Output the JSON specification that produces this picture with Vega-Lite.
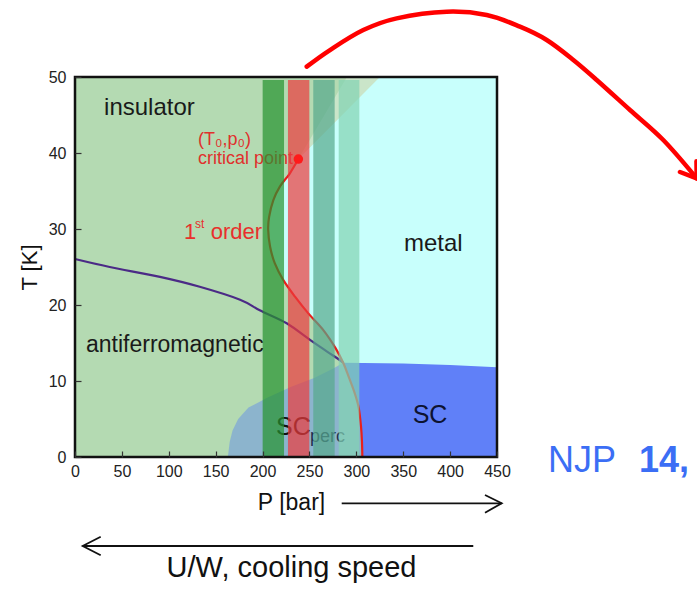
{
  "$schema": "https://vega.github.io/schema/vega-lite/v6.json",
  "autosize": {"type": "none"},
  "padding": {"left": 75, "top": 77, "right": 200, "bottom": 136},
  "width": 422,
  "height": 380,
  "background": "white",
  "config": {"view": {"stroke": null, "fill": "#c8fffc"}, "font": "Liberation Sans"},
  "resolve": {"scale": {"color": "independent"}},
  "datasets": {
    "regions": [
      {"poly": "green", "i": 0, "P": 0, "T": 0},
      {"poly": "green", "i": 1, "P": 306.4, "T": 0},
      {"poly": "green", "i": 2, "P": 306, "T": 2},
      {"poly": "green", "i": 3, "P": 305, "T": 4},
      {"poly": "green", "i": 4, "P": 302.5, "T": 6.5},
      {"poly": "green", "i": 5, "P": 298, "T": 8.5},
      {"poly": "green", "i": 6, "P": 292, "T": 10.5},
      {"poly": "green", "i": 7, "P": 286, "T": 12.4},
      {"poly": "green", "i": 8, "P": 278, "T": 14.3},
      {"poly": "green", "i": 9, "P": 264.8, "T": 16.7},
      {"poly": "green", "i": 10, "P": 248.8, "T": 18.9},
      {"poly": "green", "i": 11, "P": 234.6, "T": 21.1},
      {"poly": "green", "i": 12, "P": 222, "T": 23.3},
      {"poly": "green", "i": 13, "P": 213, "T": 25.5},
      {"poly": "green", "i": 14, "P": 208, "T": 27.7},
      {"poly": "green", "i": 15, "P": 206, "T": 29.9},
      {"poly": "green", "i": 16, "P": 207, "T": 31.6},
      {"poly": "green", "i": 17, "P": 211.5, "T": 33.8},
      {"poly": "green", "i": 18, "P": 218.6, "T": 35.6},
      {"poly": "green", "i": 19, "P": 229, "T": 37.3},
      {"poly": "green", "i": 20, "P": 238.2, "T": 39.2},
      {"poly": "green", "i": 21, "P": 325, "T": 50},
      {"poly": "green", "i": 22, "P": 0, "T": 50},
      {"poly": "wedge", "i": 0, "P": 238.2, "T": 39.2},
      {"poly": "wedge", "i": 1, "P": 325, "T": 50},
      {"poly": "wedge", "i": 2, "P": 290, "T": 50},
      {"poly": "perc", "i": 0, "P": 163, "T": 0},
      {"poly": "perc", "i": 1, "P": 165, "T": 2},
      {"poly": "perc", "i": 2, "P": 168, "T": 3.5},
      {"poly": "perc", "i": 3, "P": 174, "T": 5},
      {"poly": "perc", "i": 4, "P": 185, "T": 6.5},
      {"poly": "perc", "i": 5, "P": 205, "T": 7.8},
      {"poly": "perc", "i": 6, "P": 230, "T": 9.2},
      {"poly": "perc", "i": 7, "P": 255, "T": 10.4},
      {"poly": "perc", "i": 8, "P": 275, "T": 11.6},
      {"poly": "perc", "i": 9, "P": 286, "T": 12.4},
      {"poly": "perc", "i": 10, "P": 292, "T": 10.5},
      {"poly": "perc", "i": 11, "P": 298, "T": 8.5},
      {"poly": "perc", "i": 12, "P": 302.5, "T": 6.5},
      {"poly": "perc", "i": 13, "P": 305, "T": 4},
      {"poly": "perc", "i": 14, "P": 306, "T": 2},
      {"poly": "perc", "i": 15, "P": 306.4, "T": 0},
      {"poly": "sc", "i": 0, "P": 286, "T": 12.4},
      {"poly": "sc", "i": 1, "P": 350, "T": 12.3},
      {"poly": "sc", "i": 2, "P": 400, "T": 12.1},
      {"poly": "sc", "i": 3, "P": 450, "T": 11.8},
      {"poly": "sc", "i": 4, "P": 450, "T": 0},
      {"poly": "sc", "i": 5, "P": 306.4, "T": 0},
      {"poly": "sc", "i": 6, "P": 306, "T": 2},
      {"poly": "sc", "i": 7, "P": 305, "T": 4},
      {"poly": "sc", "i": 8, "P": 302.5, "T": 6.5},
      {"poly": "sc", "i": 9, "P": 298, "T": 8.5},
      {"poly": "sc", "i": 10, "P": 292, "T": 10.5}
    ],
    "lines": [
      {"series": "af", "i": 0, "P": 0, "T": 26.05},
      {"series": "af", "i": 1, "P": 37, "T": 25.0},
      {"series": "af", "i": 2, "P": 90.6, "T": 23.7},
      {"series": "af", "i": 3, "P": 133, "T": 22.4},
      {"series": "af", "i": 4, "P": 176, "T": 20.7},
      {"series": "af", "i": 5, "P": 197, "T": 19.3},
      {"series": "af", "i": 6, "P": 225.7, "T": 17.6},
      {"series": "af", "i": 7, "P": 250.6, "T": 15.4},
      {"series": "af", "i": 8, "P": 268.4, "T": 13.9},
      {"series": "af", "i": 9, "P": 281.9, "T": 12.8},
      {"series": "af", "i": 10, "P": 286, "T": 12.4},
      {"series": "first", "i": 1, "P": 306.4, "T": 0},
      {"series": "first", "i": 2, "P": 306, "T": 2},
      {"series": "first", "i": 3, "P": 305, "T": 4},
      {"series": "first", "i": 4, "P": 302.5, "T": 6.5},
      {"series": "first", "i": 5, "P": 298, "T": 8.5},
      {"series": "first", "i": 6, "P": 292, "T": 10.5},
      {"series": "first", "i": 7, "P": 286, "T": 12.4},
      {"series": "first", "i": 8, "P": 278, "T": 14.3},
      {"series": "first", "i": 9, "P": 264.8, "T": 16.7},
      {"series": "first", "i": 10, "P": 248.8, "T": 18.9},
      {"series": "first", "i": 11, "P": 234.6, "T": 21.1},
      {"series": "first", "i": 12, "P": 222, "T": 23.3},
      {"series": "first", "i": 13, "P": 213, "T": 25.5},
      {"series": "first", "i": 14, "P": 208, "T": 27.7},
      {"series": "first", "i": 15, "P": 206, "T": 29.9},
      {"series": "first", "i": 16, "P": 207, "T": 31.6},
      {"series": "first", "i": 17, "P": 211.5, "T": 33.8},
      {"series": "first", "i": 18, "P": 218.6, "T": 35.6},
      {"series": "first", "i": 19, "P": 229, "T": 37.3},
      {"series": "first", "i": 20, "P": 238.2, "T": 39.2}
    ],
    "bands": [
      {"band": "b1", "P": 200.1, "P2": 222.9, "T": 0, "T2": 49.6},
      {"band": "b2", "P": 227.1, "P2": 249.9, "T": 0, "T2": 49.6},
      {"band": "b3", "P": 254.1, "P2": 276.9, "T": 0, "T2": 49.6},
      {"band": "b4", "P": 281.2, "P2": 303.2, "T": 0, "T2": 49.6}
    ],
    "arrows": [
      {"series": "curve", "i": 0, "P": 247.1, "T": 51.36},
      {"series": "curve", "i": 1, "P": 271.9, "T": 53.55},
      {"series": "curve", "i": 2, "P": 307.4, "T": 56.18},
      {"series": "curve", "i": 3, "P": 343.0, "T": 57.72},
      {"series": "curve", "i": 4, "P": 396.4, "T": 58.59},
      {"series": "curve", "i": 5, "P": 439.0, "T": 58.16},
      {"series": "curve", "i": 6, "P": 474.5, "T": 56.62},
      {"series": "curve", "i": 7, "P": 503.0, "T": 54.87},
      {"series": "curve", "i": 8, "P": 531.4, "T": 52.24},
      {"series": "curve", "i": 9, "P": 556.3, "T": 49.61},
      {"series": "curve", "i": 10, "P": 591.8, "T": 45.66},
      {"series": "curve", "i": 11, "P": 627.3, "T": 41.71},
      {"series": "curve", "i": 12, "P": 662.9, "T": 36.67},
      {"series": "curveHead", "i": 0, "P": 645.1, "T": 37.5},
      {"series": "curveHead", "i": 1, "P": 662.9, "T": 36.67},
      {"series": "curveHead", "i": 2, "P": 662.7, "T": 38.9},
      {"series": "right", "i": 0, "P": 284.4, "T": -6.09},
      {"series": "right", "i": 1, "P": 455.0, "T": -6.09},
      {"series": "rightHead", "i": 0, "P": 437.2, "T": -5.0},
      {"series": "rightHead", "i": 1, "P": 455.0, "T": -6.09},
      {"series": "rightHead", "i": 2, "P": 437.2, "T": -7.33},
      {"series": "left", "i": 0, "P": 424.7, "T": -11.71},
      {"series": "left", "i": 1, "P": 8.2, "T": -11.71},
      {"series": "leftHead", "i": 0, "P": 27.4, "T": -10.49},
      {"series": "leftHead", "i": 1, "P": 8.2, "T": -11.71},
      {"series": "leftHead", "i": 2, "P": 27.4, "T": -12.93}
    ]
  },
  "encoding": {
    "x": {
      "field": "P", "type": "quantitative",
      "scale": {"domain": [0, 450], "nice": false, "zero": false},
      "axis": {
        "values": [0, 50, 100, 150, 200, 250, 300, 350, 400, 450],
        "title": null, "domain": false, "grid": false,
        "tickSize": -6, "tickColor": "#333", "tickWidth": 1.2,
        "labelFontSize": 16, "labelColor": "#222", "labelPadding": 12,
        "labelFont": "Liberation Sans", "labelFlush": false, "labelOverlap": false, "zindex": 1
      }
    },
    "y": {
      "field": "T", "type": "quantitative",
      "scale": {"domain": [0, 50], "nice": false, "zero": false},
      "axis": {
        "values": [0, 10, 20, 30, 40, 50],
        "title": "T [K]", "titleFontSize": 22, "titleFontWeight": "normal", "titleColor": "#111",
        "titleFont": "Liberation Sans",
        "titleX": -46, "titleY": 190, "titleAngle": 270, "titleAlign": "center", "titleBaseline": "middle",
        "domain": false, "grid": false,
        "tickSize": -6, "tickColor": "#333", "tickWidth": 1.2,
        "labelFontSize": 16, "labelColor": "#222", "labelPadding": 15,
        "labelFont": "Liberation Sans", "labelOverlap": false, "zindex": 1
      }
    }
  },
  "layer": [
    {
      "data": {"name": "regions"},
      "transform": [{"filter": "datum.poly === 'green'"}],
      "mark": {"type": "line", "fill": "#b4dab2", "stroke": "#b4dab2", "strokeWidth": 0, "strokeOpacity": 0},
      "encoding": {"order": {"field": "i", "type": "quantitative"}}
    },
    {
      "data": {"name": "regions"},
      "transform": [{"filter": "datum.poly === 'wedge'"}],
      "mark": {"type": "line", "fill": "#ffffff", "fillOpacity": 0.3, "stroke": "#ffffff", "strokeWidth": 0, "strokeOpacity": 0},
      "encoding": {"order": {"field": "i", "type": "quantitative"}}
    },
    {
      "data": {"name": "regions"},
      "transform": [{"filter": "datum.poly === 'perc'"}],
      "mark": {"type": "line", "fill": "#719bdf", "fillOpacity": 0.6, "stroke": "#719bdf", "strokeWidth": 0, "strokeOpacity": 0},
      "encoding": {"order": {"field": "i", "type": "quantitative"}}
    },
    {
      "data": {"name": "regions"},
      "transform": [{"filter": "datum.poly === 'sc'"}],
      "mark": {"type": "line", "fill": "#6080f8", "stroke": "#6080f8", "strokeWidth": 0, "strokeOpacity": 0},
      "encoding": {"order": {"field": "i", "type": "quantitative"}}
    },
    {
      "data": {"name": "lines"},
      "mark": {"type": "line", "strokeWidth": 2.2, "interpolate": "cardinal"},
      "encoding": {
        "order": {"field": "i", "type": "quantitative"},
        "color": {"field": "series", "type": "nominal", "scale": {"domain": ["af", "first"], "range": ["#4b2a86", "#e8201c"]}, "legend": null}
      }
    },
    {
      "data": {"values": [{"label": "insulator", "P": 31, "T": 45}]},
      "mark": {"type": "text", "align": "left", "baseline": "alphabetic", "fontSize": 24, "color": "#1a1a1a", "font": "Liberation Sans"},
      "encoding": {"text": {"field": "label"}}
    },
    {
      "data": {"values": [{"label": "metal", "P": 382, "T": 27.1}]},
      "mark": {"type": "text", "align": "center", "baseline": "alphabetic", "fontSize": 24, "color": "#1a1a1a", "font": "Liberation Sans"},
      "encoding": {"text": {"field": "label"}}
    },
    {
      "data": {"values": [{"label": "antiferromagnetic", "P": 11.7, "T": 13.8}]},
      "mark": {"type": "text", "align": "left", "baseline": "alphabetic", "fontSize": 23, "color": "#1a1a1a", "font": "Liberation Sans"},
      "encoding": {"text": {"field": "label"}}
    },
    {
      "data": {"values": [{"label": "(T₀,p₀)", "P": 131.2, "T": 41.05}, {"label": "critical point", "P": 131.2, "T": 38.55}]},
      "mark": {"type": "text", "align": "left", "baseline": "alphabetic", "fontSize": 18, "color": "#e0302c", "font": "Liberation Sans"},
      "encoding": {"text": {"field": "label"}}
    },
    {
      "data": {"values": [{"label": "1", "P": 116.2, "T": 28.7}, {"label": "order", "P": 144.7, "T": 28.7}]},
      "mark": {"type": "text", "align": "left", "baseline": "alphabetic", "fontSize": 22, "color": "#e8302c", "font": "Liberation Sans"},
      "encoding": {"text": {"field": "label"}}
    },
    {
      "data": {"values": [{"label": "st", "P": 128, "T": 30.1}]},
      "mark": {"type": "text", "align": "left", "baseline": "alphabetic", "fontSize": 12, "color": "#e8302c", "font": "Liberation Sans"},
      "encoding": {"text": {"field": "label"}}
    },
    {
      "data": {"values": [{"label": "SC", "P": 378.6, "T": 4.5}]},
      "mark": {"type": "text", "align": "center", "baseline": "alphabetic", "fontSize": 25, "color": "#0d1330", "font": "Liberation Sans"},
      "encoding": {"text": {"field": "label"}}
    },
    {
      "data": {"values": [{"label": "SC", "P": 214.3, "T": 2.9}]},
      "mark": {"type": "text", "align": "left", "baseline": "alphabetic", "fontSize": 25, "color": "#111111", "font": "Liberation Sans"},
      "encoding": {"text": {"field": "label"}}
    },
    {
      "data": {"values": [{"label": "perc", "P": 250.6, "T": 1.97}]},
      "mark": {"type": "text", "align": "left", "baseline": "alphabetic", "fontSize": 18, "color": "#1e3050", "font": "Liberation Sans"},
      "encoding": {"text": {"field": "label"}}
    },
    {
      "data": {"name": "bands"},
      "mark": {"type": "rect", "opacity": 0.7},
      "encoding": {
        "x2": {"field": "P2"},
        "y2": {"field": "T2"},
        "color": {"field": "band", "type": "nominal", "scale": {"domain": ["b1", "b2", "b3", "b4"], "range": ["#25932f", "#ed3a3d", "#55a88c", "#81d3b2"]}, "legend": null}
      }
    },
    {
      "data": {"values": [{"P": 238.2, "T": 39.2}]},
      "mark": {"type": "point", "filled": true, "size": 90, "color": "#ff1a1a", "opacity": 1}
    },
    {
      "data": {"values": [{"P": 0, "P2": 450, "T": 0, "T2": 50}]},
      "mark": {"type": "rect", "filled": false, "color": "#111111", "strokeWidth": 2.5},
      "encoding": {"x2": {"field": "P2"}, "y2": {"field": "T2"}}
    },
    {
      "data": {"name": "arrows"},
      "transform": [{"filter": "datum.series === 'curve'"}],
      "mark": {"type": "line", "color": "#ff0000", "strokeWidth": 4.5, "strokeCap": "round", "interpolate": "cardinal", "clip": false},
      "encoding": {"order": {"field": "i", "type": "quantitative"}}
    },
    {
      "data": {"name": "arrows"},
      "transform": [{"filter": "datum.series === 'curveHead'"}],
      "mark": {"type": "line", "color": "#ff0000", "strokeWidth": 4.5, "strokeCap": "round", "strokeJoin": "round", "clip": false},
      "encoding": {"order": {"field": "i", "type": "quantitative"}}
    },
    {
      "data": {"name": "arrows"},
      "transform": [{"filter": "datum.series !== 'curve' && datum.series !== 'curveHead'"}],
      "mark": {"type": "line", "color": "#111111", "strokeWidth": 1.8, "clip": false},
      "encoding": {"order": {"field": "i", "type": "quantitative"}, "detail": {"field": "series"}}
    },
    {
      "data": {"values": [{"label": "P [bar]", "P": 230.9, "T": -6.97}]},
      "mark": {"type": "text", "align": "center", "baseline": "alphabetic", "fontSize": 23, "color": "#111111", "font": "Liberation Sans"},
      "encoding": {"text": {"field": "label"}}
    },
    {
      "data": {"values": [{"label": "U/W, cooling speed", "P": 230.9, "T": -15.8}]},
      "mark": {"type": "text", "align": "center", "baseline": "alphabetic", "fontSize": 29, "color": "#111111", "font": "Liberation Sans"},
      "encoding": {"text": {"field": "label"}}
    },
    {
      "data": {"values": [{"label": "NJP", "P": 504.4, "T": -1.93}]},
      "mark": {"type": "text", "align": "left", "baseline": "alphabetic", "fontSize": 36, "color": "#3b6ef5", "font": "Liberation Sans"},
      "encoding": {"text": {"field": "label"}}
    },
    {
      "data": {"values": [{"label": "14,", "P": 601.4, "T": -1.93}]},
      "mark": {"type": "text", "align": "left", "baseline": "alphabetic", "fontSize": 36, "fontWeight": "bold", "color": "#3b6ef5", "font": "Liberation Sans"},
      "encoding": {"text": {"field": "label"}}
    }
  ]
}
